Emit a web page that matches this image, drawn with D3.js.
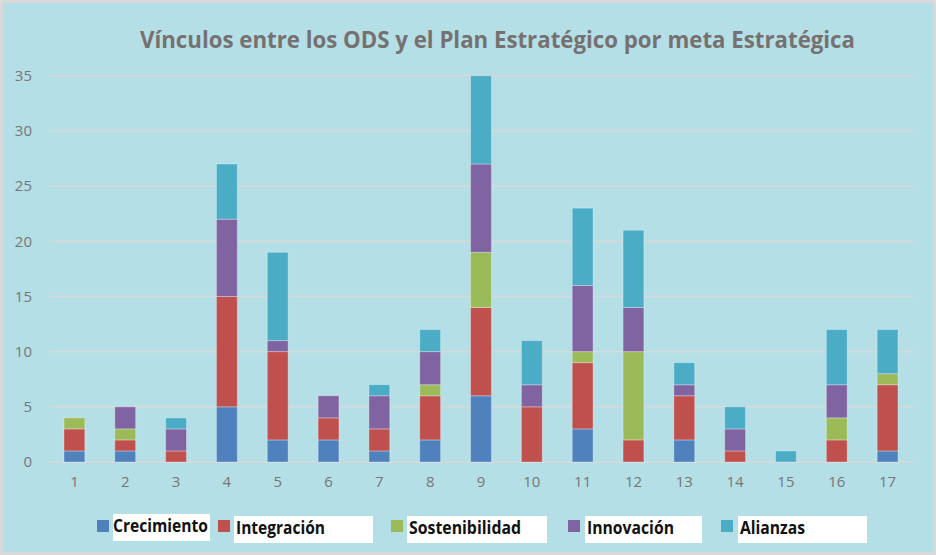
<!DOCTYPE html>
<html>
<head>
<meta charset="utf-8">
<script src="https://cdn.jsdelivr.net/npm/d3@7"></script>
<style>
  body { margin: 0; background: #fff; }
  svg { display: block; font-family: "Open Sans", sans-serif; }
</style>
</head>
<body>
<script>
const ods = ["1", "2", "3", "4", "5", "6", "7", "8", "9", "10", "11", "12", "13", "14", "15", "16", "17"];
const seriesNames = ["Crecimiento", "Integración", "Sostenibilidad", "Innovación", "Alianzas"];
const crecimiento    = [1, 1, 0, 5, 2, 2, 1, 2, 6, 0, 3, 0, 2, 0, 0, 0, 1];
const integracion    = [2, 1, 1, 10, 8, 2, 2, 4, 8, 5, 6, 2, 4, 1, 0, 2, 6];
const sostenibilidad = [1, 1, 0, 0, 0, 0, 0, 1, 5, 0, 1, 8, 0, 0, 0, 2, 1];
const innovacion     = [0, 2, 2, 7, 1, 2, 3, 3, 8, 2, 6, 4, 1, 2, 0, 3, 0];
const alianzas       = [0, 0, 1, 5, 8, 0, 1, 2, 8, 4, 7, 7, 2, 2, 1, 5, 4];
const yTicks = [0, 5, 10, 15, 20, 25, 30, 35];

const colors = ["#4f81bd", "#c0504d", "#9bbb59", "#8064a2", "#4bacc6"];
const title = "Vínculos entre los ODS y el Plan Estratégico por meta Estratégica";

const width = 936, height = 555;
const plotLeft = 49, plotRight = 913, plotTop = 75.7, plotBottom = 462;

const table = ods.map((d, i) => ({
  ods: d,
  Crecimiento: crecimiento[i],
  "Integración": integracion[i],
  Sostenibilidad: sostenibilidad[i],
  "Innovación": innovacion[i],
  Alianzas: alianzas[i]
}));

const stacked = d3.stack().keys(seriesNames)(table);

const x = d3.scaleBand()
  .domain(ods)
  .range([plotLeft, plotRight])
  .paddingInner(0.59)
  .paddingOuter(0.295);

const y = d3.scaleLinear()
  .domain([0, 35])
  .range([plotBottom, plotTop]);

const color = d3.scaleOrdinal().domain(seriesNames).range(colors);

const svg = d3.select("body").append("svg")
  .attr("width", width)
  .attr("height", height);

svg.append("rect")
  .attr("x", 1.5).attr("y", 1.5)
  .attr("width", width - 3).attr("height", height - 3)
  .attr("fill", "#b5dfe6")
  .attr("stroke", "#d9d9d9")
  .attr("stroke-width", 3);

// gridlines
svg.append("g")
  .selectAll("line")
  .data(yTicks)
  .join("line")
  .attr("x1", plotLeft)
  .attr("x2", plotRight)
  .attr("y1", d => y(d))
  .attr("y2", d => y(d))
  .attr("stroke", "#d9d9d9")
  .attr("stroke-width", 1.5);

// y axis labels
const yAxis = svg.append("g")
  .attr("transform", "translate(" + (plotLeft - 17) + ",0)")
  .call(d3.axisLeft(y).tickValues(yTicks).tickSize(0).tickPadding(0));
yAxis.select(".domain").remove();
yAxis.selectAll("text")
  .attr("fill", "#767676")
  .style("font-size", "15px")
  .style("font-family", "'Open Sans', sans-serif");

// x axis labels
const xAxis = svg.append("g")
  .attr("transform", "translate(0," + (plotBottom + 14) + ")")
  .call(d3.axisBottom(x).tickSize(0).tickPadding(0));
xAxis.select(".domain").remove();
xAxis.selectAll("text")
  .attr("fill", "#767676")
  .style("font-size", "15px")
  .style("font-family", "'Open Sans', sans-serif");

// bars
svg.append("g")
  .selectAll("g")
  .data(stacked)
  .join("g")
  .attr("fill", d => color(d.key))
  .selectAll("rect")
  .data(d => d.filter(s => s[1] > s[0]))
  .join("rect")
  .attr("x", d => x(d.data.ods))
  .attr("width", x.bandwidth())
  .attr("y", d => y(d[1]))
  .attr("height", d => y(d[0]) - y(d[1]))
  .attr("stroke", "rgba(255,255,255,0.3)")
  .attr("stroke-width", 1);

// title
svg.append("text")
  .attr("x", 140)
  .attr("y", 48)
  .attr("textLength", 715)
  .attr("lengthAdjust", "spacingAndGlyphs")
  .attr("fill", "#767171")
  .style("font-size", "23px")
  .style("font-weight", "bold")
  .text(title);

// legend
const legendSquareX = [97, 218, 391, 568, 721];
const legendBox = [[113, 97, 514], [234, 139, 516], [407, 140, 516], [585, 117, 516], [738, 129, 516]];
const legendTextLen = [95, 89, 112, 87, 65];

const legend = svg.append("g");
const items = legend.selectAll("g")
  .data(seriesNames)
  .join("g");

items.append("rect")
  .attr("x", (d, i) => legendBox[i][0])
  .attr("y", (d, i) => legendBox[i][2])
  .attr("width", (d, i) => legendBox[i][1])
  .attr("height", 27)
  .attr("fill", "#fff");

items.append("rect")
  .attr("x", (d, i) => legendSquareX[i])
  .attr("y", 520)
  .attr("width", 12)
  .attr("height", 12)
  .attr("fill", d => color(d));

items.append("text")
  .attr("x", (d, i) => legendBox[i][0] + (i === 0 ? 0 : 2))
  .attr("y", (d, i) => i === 0 ? 532 : 534)
  .attr("textLength", (d, i) => legendTextLen[i])
  .attr("lengthAdjust", "spacingAndGlyphs")
  .attr("fill", "#111")
  .style("font-size", "17px")
  .style("font-weight", "bold")
  .text(d => d);
</script>
</body>
</html>
